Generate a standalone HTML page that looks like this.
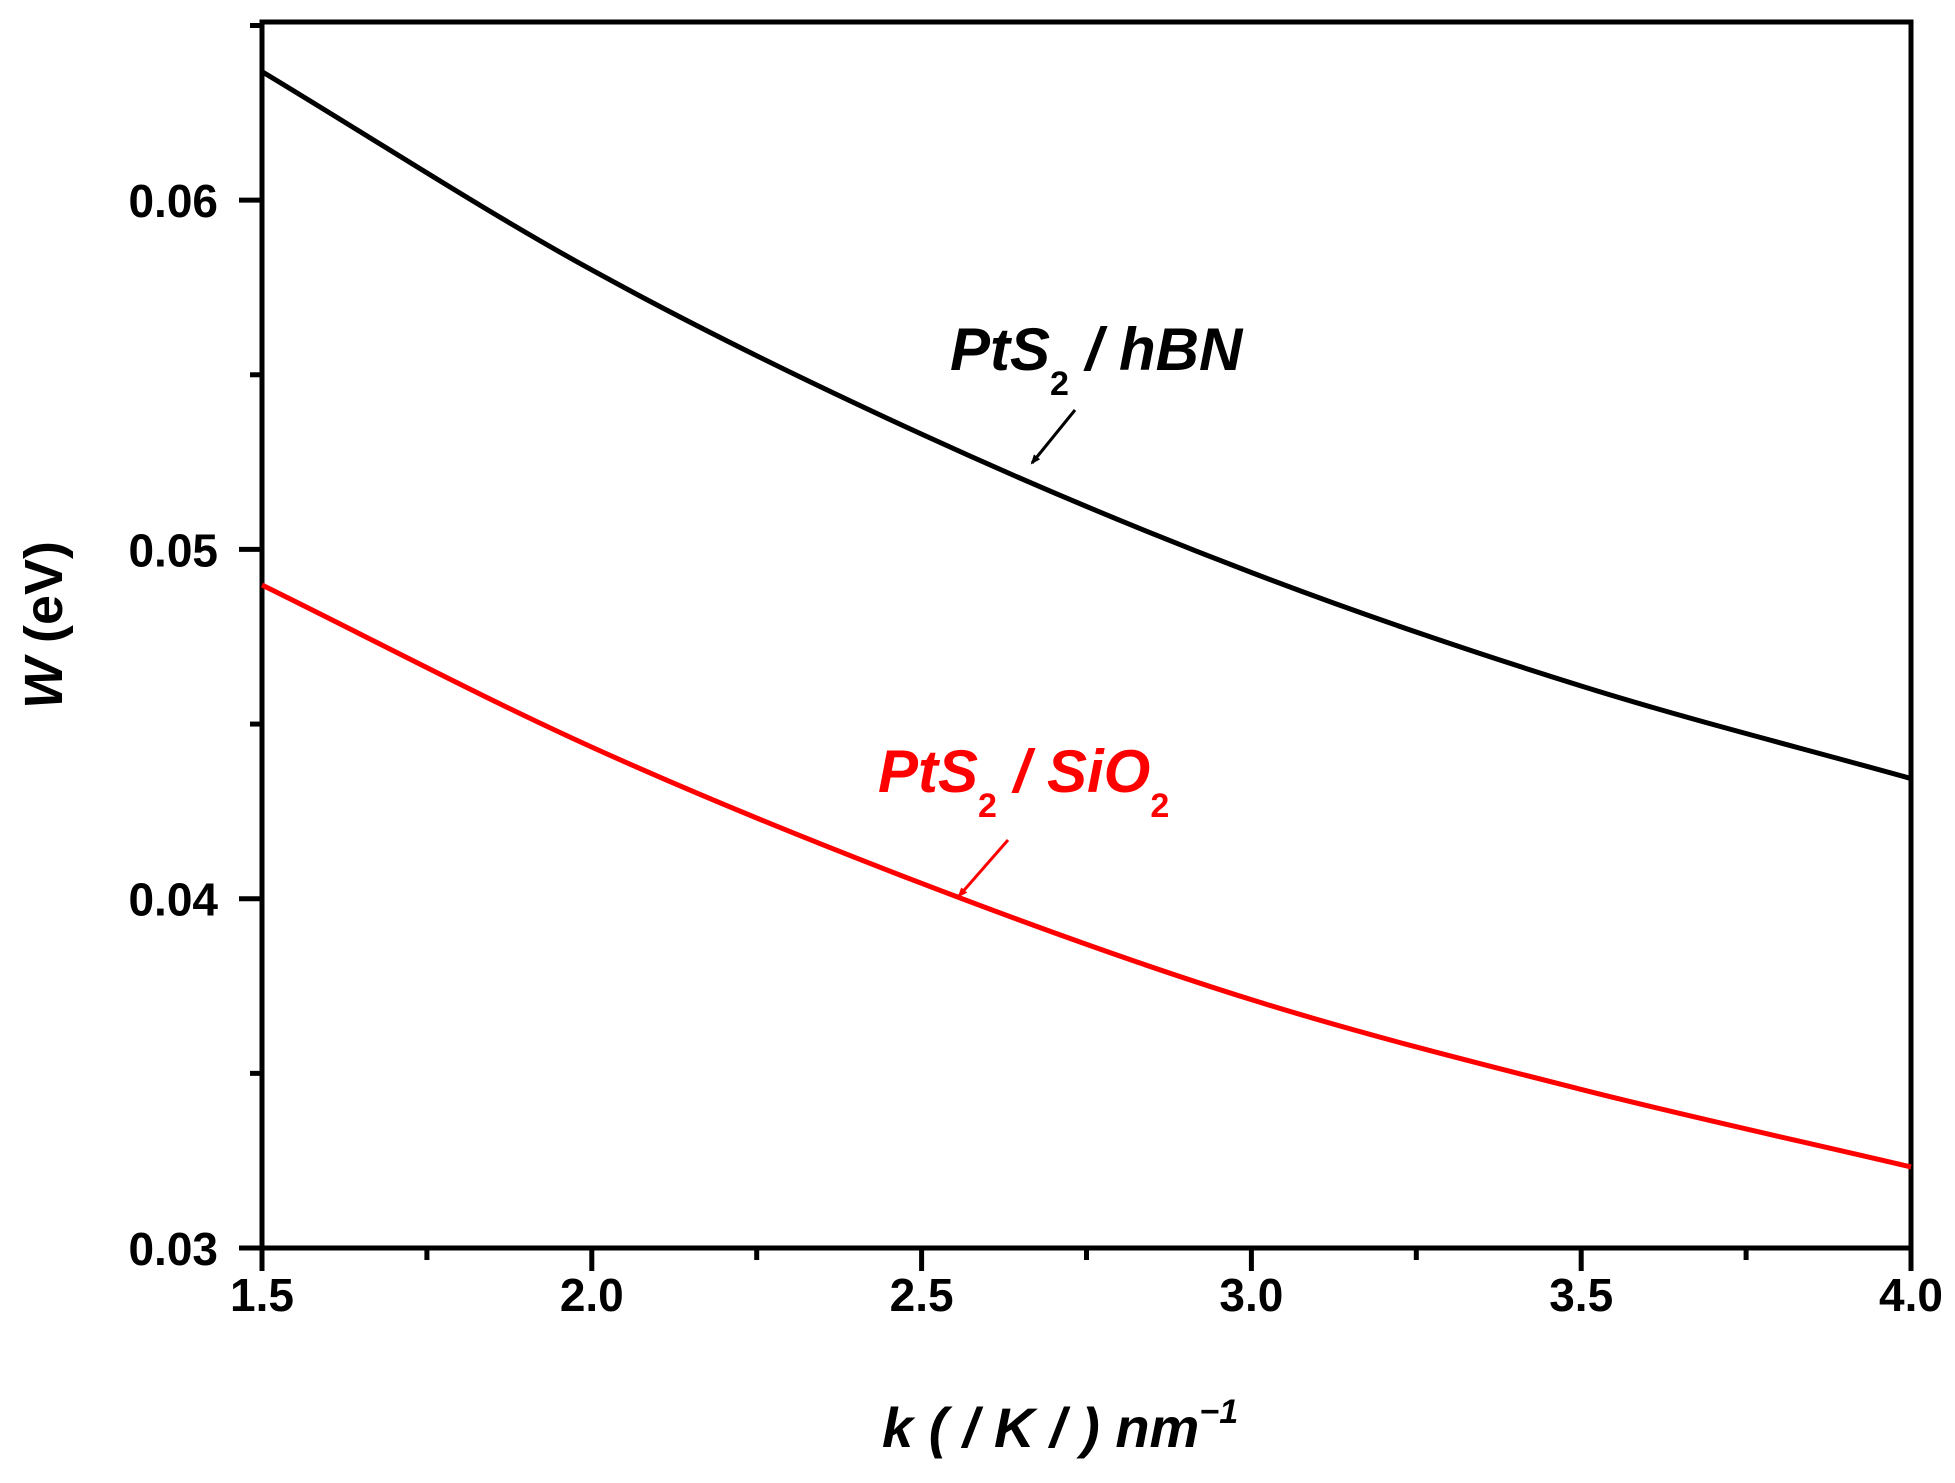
<!DOCTYPE html>
<html><head><meta charset="utf-8"><style>
body{margin:0;background:#fff}
svg{display:block;font-family:"Liberation Sans",Arial,sans-serif;font-weight:bold}
</style></head><body>
<svg id="chart" width="1955" height="1483" viewBox="0 0 1955 1483" xmlns="http://www.w3.org/2000/svg">
<g id="axes"></g>
<g id="series"></g>
<text transform="translate(62,625) rotate(-90)" text-anchor="middle" font-size="54"><tspan font-style="italic">W</tspan> (eV)</text>
<text x="882" y="1447" font-size="56" font-style="italic">k ( / K / ) nm<tspan dy="-24" font-size="34">−1</tspan></text>
<text x="950" y="370" font-size="60" font-style="italic">PtS<tspan dy="25" font-size="34" font-style="normal">2</tspan><tspan dy="-25"> / hBN</tspan></text>
<text x="878" y="792" font-size="60" font-style="italic" fill="#ff0000">PtS<tspan dy="25" font-size="34" font-style="normal">2</tspan><tspan dy="-25"> / SiO</tspan><tspan dy="25" font-size="34" font-style="normal">2</tspan></text>
<defs>
<marker id="ahk" markerWidth="10" markerHeight="8" refX="8" refY="4" orient="auto" markerUnits="userSpaceOnUse"><path d="M0,0 L10,4 L0,8 z" fill="#000"/></marker>
<marker id="ahr" markerWidth="10" markerHeight="8" refX="8" refY="4" orient="auto" markerUnits="userSpaceOnUse"><path d="M0,0 L10,4 L0,8 z" fill="#f00"/></marker>
</defs>
<line x1="1075" y1="410" x2="1032" y2="463" stroke="#000" stroke-width="3" marker-end="url(#ahk)"/>
<line x1="1008" y1="840" x2="959" y2="896" stroke="#f00" stroke-width="3" marker-end="url(#ahr)"/>
</svg>
<script>
const kValues=[1.5,2.0,2.5,3.0,3.5,4.0];
const hbnValues=[0.06368,0.0580,0.0533,0.04934,0.04609,0.04344];
const sio2Values=[0.04898,0.04434,0.04044,0.03711,0.03454,0.03232];
const xTickLabels=["1.5","2.0","2.5","3.0","3.5","4.0"];
const yTickLabels=["0.03","0.04","0.05","0.06"];
const L=262,R=1911,T=22,B=1248,X0=1.5,X1=4.0,Y0=0.03,Y1=0.0651;
const NS="http://www.w3.org/2000/svg";
function sx(v){return L+(v-X0)/(X1-X0)*(R-L);}
function sy(v){return B-(v-Y0)/(Y1-Y0)*(B-T);}
function mk(tag,attrs,parent){const e=document.createElementNS(NS,tag);for(const k in attrs)e.setAttribute(k,attrs[k]);parent.appendChild(e);return e;}
const ax=document.getElementById('axes');
const frame=mk('rect',{x:L,y:T,width:R-L,height:B-T,fill:'none',stroke:'#000','stroke-width':5},ax);


for(let i=0;i<=10;i++){const v=1.5+i*0.25;const major=i%2===0;
 const t=mk('line',{x1:sx(v),x2:sx(v),y1:B,y2:B+(major?23:12),stroke:'#000','stroke-width':5},ax);
 
 }
xTickLabels.forEach(s=>{const t=mk('text',{x:sx(parseFloat(s)),y:B+63,'text-anchor':'middle','font-size':46},ax);t.textContent=s;
 
 });
for(let i=0;i<=7;i++){const v=0.03+i*0.005;const major=i%2===0;
 const t=mk('line',{x1:L-(major?23:12),x2:L,y1:sy(v),y2:sy(v),stroke:'#000','stroke-width':5},ax);
 
 }
yTickLabels.forEach(s=>{const t=mk('text',{x:218,y:sy(parseFloat(s))+17,'text-anchor':'end','font-size':46},ax);t.textContent=s;
 
 });
function pathFor(vals){const p=kValues.map((k,i)=>[sx(k),sy(vals[i])]);let d='M'+p[0][0]+','+p[0][1];
 for(let i=0;i<p.length-1;i++){
  const p0=p[i-1]||[2*p[0][0]-p[1][0],2*p[0][1]-p[1][1]];
  const p1=p[i],p2=p[i+1];
  const p3=p[i+2]||[2*p2[0]-p1[0],2*p2[1]-p1[1]];
  d+=' C'+(p1[0]+(p2[0]-p0[0])/6)+','+(p1[1]+(p2[1]-p0[1])/6)+' '+(p2[0]-(p3[0]-p1[0])/6)+','+(p2[1]-(p3[1]-p1[1])/6)+' '+p2[0]+','+p2[1];}
 return d;}
const sg=document.getElementById('series');
const l1=mk('path',{d:pathFor(hbnValues),fill:'none',stroke:'#000','stroke-width':5},sg);


const l2=mk('path',{d:pathFor(sio2Values),fill:'none',stroke:'#ff0000','stroke-width':5},sg);


</script>
</body></html>
